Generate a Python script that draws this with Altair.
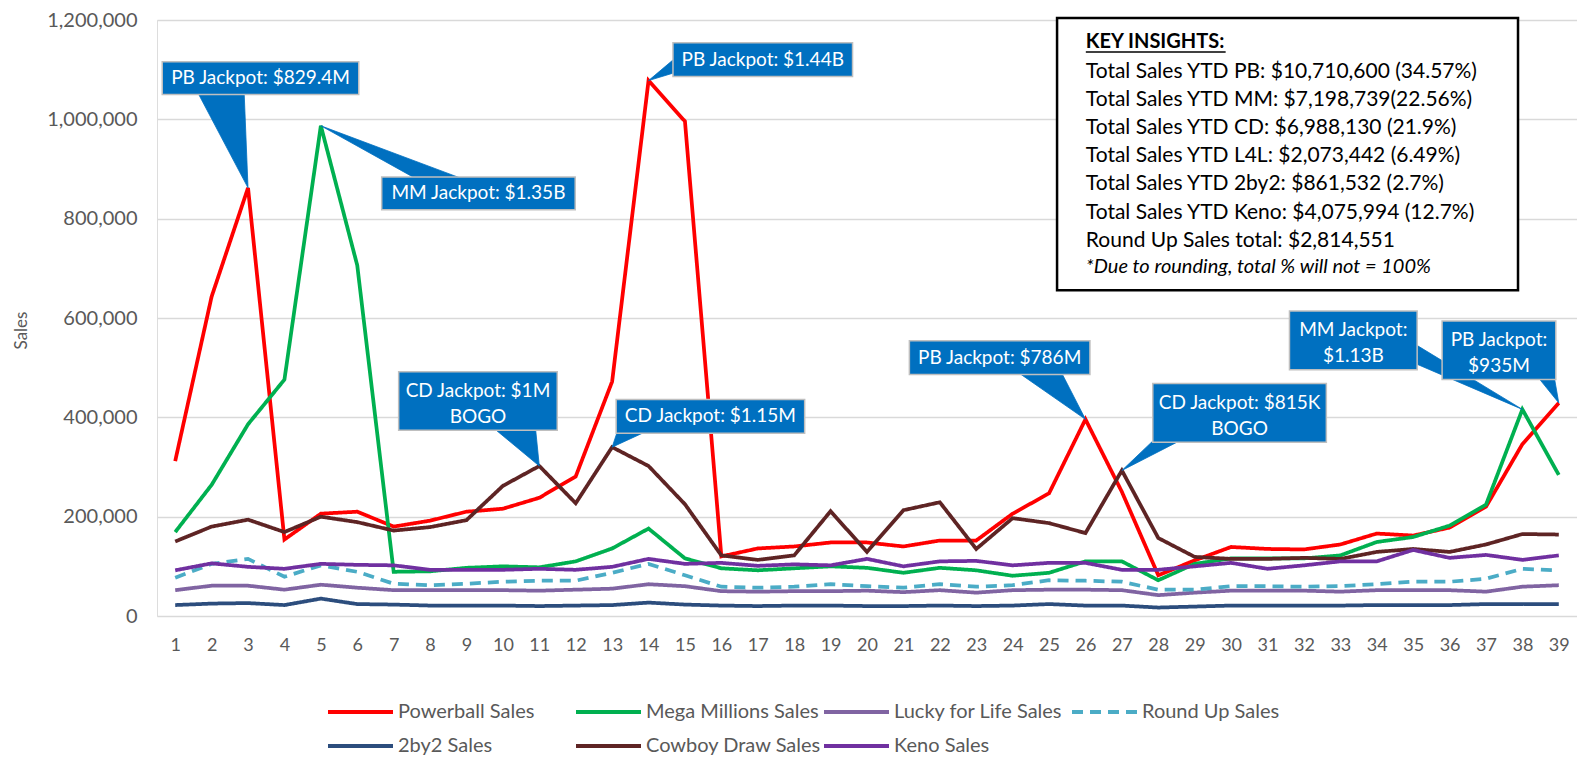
import altair as alt
import pandas as pd

# ---------------- data ----------------
weeks = list(range(1, 40))

powerball = [312000, 643000, 862000, 154000, 206000, 210000, 180000, 192000, 210000, 216000,
             238000, 281000, 472000, 1078000, 996000, 120000, 136000, 140000, 148000, 148000,
             140000, 152000, 152000, 206000, 247000, 396000, 250000, 82000, 112000, 139000,
             135000, 134000, 144000, 166000, 162000, 178000, 220000, 346000, 429000]
mega_millions = [169000, 264000, 386000, 476000, 987000, 706000, 89000, 90000, 97000, 100000,
                 98000, 110000, 136000, 176000, 116000, 96000, 92000, 96000, 100000, 97000,
                 87000, 97000, 92000, 81000, 87000, 110000, 110000, 72000, 105000, 116000,
                 116000, 116000, 122000, 149000, 159000, 182000, 224000, 416000, 284000]
lucky_for_life = [52000, 61000, 61000, 53000, 63000, 57000, 52000, 52000, 52000, 52000,
                  51000, 53000, 55000, 64000, 60000, 50000, 49000, 50000, 50000, 51000,
                  48000, 52000, 47000, 52000, 53000, 53000, 52000, 42000, 47000, 51000,
                  51000, 51000, 49000, 52000, 52000, 52000, 49000, 59000, 62000]
round_up = [77000, 105000, 115000, 79000, 102000, 89000, 65000, 62000, 65000, 69000,
            71000, 71000, 87000, 105000, 82000, 59000, 57000, 59000, 64000, 60000,
            57000, 64000, 59000, 62000, 72000, 71000, 69000, 53000, 53000, 60000,
            60000, 59000, 60000, 64000, 69000, 69000, 75000, 95000, 92000]
two_by_two = [22000, 25000, 26000, 22000, 35000, 24000, 23000, 21000, 21000, 21000,
              20000, 21000, 22000, 27000, 23000, 21000, 20000, 21000, 21000, 20000,
              20000, 21000, 20000, 21000, 24000, 21000, 21000, 17000, 19000, 21000,
              21000, 21000, 21000, 22000, 22000, 22000, 24000, 24000, 24000]
cowboy_draw = [150000, 180000, 194000, 169000, 200000, 189000, 172000, 179000, 193000, 262000,
               302000, 227000, 340000, 302000, 225000, 122000, 113000, 122000, 211000, 129000,
               213000, 229000, 135000, 197000, 187000, 167000, 293000, 157000, 119000, 115000,
               115000, 117000, 115000, 129000, 135000, 129000, 144000, 165000, 164000]
keno = [92000, 106000, 99000, 95000, 105000, 103000, 102000, 93000, 93000, 93000,
        95000, 93000, 99000, 115000, 105000, 107000, 101000, 104000, 102000, 115000,
        100000, 110000, 111000, 102000, 107000, 107000, 93000, 93000, 100000, 107000,
        95000, 102000, 110000, 110000, 133000, 117000, 123000, 113000, 122000]

series_names = ["Powerball Sales", "Mega Millions Sales", "Lucky for Life Sales", "Round Up Sales",
                "2by2 Sales", "Cowboy Draw Sales", "Keno Sales"]
series_values = [powerball, mega_millions, lucky_for_life, round_up, two_by_two, cowboy_draw, keno]
series_colors = ["#FF0000", "#00B050", "#8064A2", "#4BACC6", "#2C4D7D", "#5E2424", "#7030A0"]
series_dashes = [[1, 0], [1, 0], [1, 0], [11, 7], [1, 0], [1, 0], [1, 0]]

y_ticks = [0, 200000, 400000, 600000, 800000, 1000000, 1200000]

# callouts
callout_texts = ["PB Jackpot: $829.4M", "MM Jackpot: $1.35B", "PB Jackpot: $1.44B",
                 "CD Jackpot: $1M\nBOGO", "CD Jackpot: $1.15M", "PB Jackpot: $786M",
                 "CD Jackpot: $815K\nBOGO", "MM Jackpot:\n$1.13B", "PB Jackpot:\n$935M"]
callout_series = ["Powerball Sales", "Mega Millions Sales", "Powerball Sales",
                  "Cowboy Draw Sales", "Cowboy Draw Sales", "Powerball Sales",
                  "Cowboy Draw Sales", "Mega Millions Sales", "Powerball Sales"]
callout_week = [3, 5, 14, 11, 13, 26, 27, 38, 39]
box_x0 = [0.644, 6.671, 14.671, 7.137, 13.11, 21.164, 27.849, 31.603, 35.795]
box_x1 = [6.041, 11.986, 19.603, 11.493, 18.288, 26.123, 32.616, 35.11, 38.918]
box_y0 = [1050000, 818000, 1086000, 374000, 368000, 486000, 350000, 496000, 476000]
box_y1 = [1116000, 884000, 1154000, 492000, 436000, 554000, 468000, 614000, 594000]
# wedge base corners (hidden inside each box)
wedge_ax = [1.575, 7.822, 14.808, 9.685, 13.164, 24.041, 27.959, 34.945, 38.370]
wedge_ay = [1060000, 872000, 1128000, 382000, 376000, 496000, 360000, 552000, 486000]
wedge_bx = [2.890, 9.192, 14.808, 10.890, 14.068, 25.301, 28.781, 34.945, 38.863]
wedge_by = [1060000, 872000, 1096000, 382000, 376000, 496000, 360000, 512000, 486000]

# key insights
insight_header = "KEY INSIGHTS:"
insight_lines = ["Total Sales YTD PB: $10,710,600 (34.57%)",
                 "Total Sales YTD MM: $7,198,739(22.56%)",
                 "Total Sales YTD CD: $6,988,130 (21.9%)",
                 "Total Sales YTD L4L: $2,073,442 (6.49%)",
                 "Total Sales YTD 2by2: $861,532 (2.7%)",
                 "Total Sales YTD Keno: $4,075,994 (12.7%)",
                 "Round Up Sales total: $2,814,551"]
insight_note = "*Due to rounding, total % will not = 100%"

# ---------------- tables ----------------
rows = []
for name, vals in zip(series_names, series_values):
    for w, v in zip(weeks, vals):
        rows.append({"series": name, "week": w, "sales": v})
df = pd.DataFrame(rows)

lookup = dict(zip(series_names, series_values))
wedge_rows = []
for i in range(len(callout_texts)):
    tip = lookup[callout_series[i]][callout_week[i] - 1]
    wedge_rows.append({"id": i, "k": 0, "week": wedge_ax[i], "sales": wedge_ay[i]})
    wedge_rows.append({"id": i, "k": 1, "week": callout_week[i], "sales": tip})
    wedge_rows.append({"id": i, "k": 2, "week": wedge_bx[i], "sales": wedge_by[i]})
wedge_df = pd.DataFrame(wedge_rows)

box_df = pd.DataFrame({"label": callout_texts, "week": box_x0, "x1": box_x1,
                       "sales": box_y0, "y1": box_y1})
box_df["cx"] = (box_df["week"] + box_df["x1"]) / 2
box_df["cy"] = (box_df["sales"] + box_df["y1"]) / 2
box_df["multi"] = box_df["label"].str.contains("\n")

ins_box = pd.DataFrame({"week": [25.22], "x1": [37.88], "sales": [656000], "y1": [1204000]})
ins_head = pd.DataFrame({"t": [insight_header], "week": [26.01], "sales": [1155000]})
ins_ul = pd.DataFrame({"week": [26.01], "x2": [29.85], "sales": [1135400]})
ins_body = pd.DataFrame({"t": insight_lines, "week": [26.01] * len(insight_lines),
                         "sales": [1096000 - i * 56800 for i in range(len(insight_lines))]})
ins_note = pd.DataFrame({"t": [insight_note], "week": [26.01], "sales": [703000]})

# ---------------- chart ----------------
FONT = "Lato"
xs = alt.Scale(domain=[0.5, 39.5], nice=False, zero=False)
ys = alt.Scale(domain=[0, 1200000], nice=False)
x_axis = alt.Axis(values=weeks, grid=False, ticks=False, domain=False, title=None,
                  labelFontSize=18, labelColor="#595959", labelPadding=20,
                  labelFont=FONT, labelFlush=False)
y_axis = alt.Axis(values=y_ticks, format=",", labelExpr="format(datum.value, ',')",
                  grid=True, gridColor="#D9D9D9",
                  gridWidth=1.5, domain=False, ticks=False, labelFontSize=20,
                  labelColor="#595959", labelPadding=20, labelFont=FONT,
                  title="Sales", titleFontSize=17, titleFontWeight="normal",
                  titleColor="#595959", titleFont=FONT, titleX=-127, titleY=310)
X = alt.X("week:Q", scale=xs, axis=x_axis)
Y = alt.Y("sales:Q", scale=ys, axis=y_axis)

legend = alt.Legend(orient="none", legendX=169, legendY=680, direction="horizontal",
                    columns=4, symbolType="stroke", symbolSize=4225, symbolStrokeWidth=4,
                    labelFont=FONT, labelFontSize=20, clipHeight=24, labelLimit=400,
                    labelColor="#595959", title=None, gridAlign="all", columnPadding=0,
                    rowPadding=10, labelOffset=3, padding=0)

lines = alt.Chart(df).mark_line(strokeWidth=3.75).encode(
    x=X, y=Y,
    color=alt.Color("series:N", scale=alt.Scale(domain=series_names, range=series_colors),
                    sort=series_names, legend=legend),
    strokeDash=alt.StrokeDash("series:N", scale=alt.Scale(domain=series_names, range=series_dashes),
                              sort=series_names, legend=legend),
    order=alt.Order("week:Q"),
)

wedges = alt.Chart(wedge_df).mark_line(fill="#0070C0", stroke="#0070C0", strokeWidth=0.8).encode(
    x=X, y=Y, detail="id:N", order=alt.Order("k:Q"),
)

boxes = alt.Chart(box_df).mark_rect(fill="#0070C0", stroke="#BFBFBF", strokeWidth=1.5).encode(
    x=X, x2="x1", y=Y, y2="y1",
)

box_text1 = alt.Chart(box_df).transform_filter("!datum.multi").mark_text(
    color="white", fontSize=19, font=FONT, align="center", baseline="middle").encode(
    x=alt.X("cx:Q", scale=xs, axis=x_axis), y=alt.Y("cy:Q", scale=ys, axis=y_axis),
    text="label:N",
)
box_text2 = alt.Chart(box_df).transform_filter("datum.multi").mark_text(
    color="white", fontSize=19, font=FONT, lineBreak="\n", lineHeight=26, dy=-10,
    align="center", baseline="middle").encode(
    x=alt.X("cx:Q", scale=xs, axis=x_axis), y=alt.Y("cy:Q", scale=ys, axis=y_axis),
    text="label:N",
)

ibox = alt.Chart(ins_box).mark_rect(fill="white", stroke="black", strokeWidth=2.5).encode(
    x=X, x2="x1", y=Y, y2="y1",
)

ihead = alt.Chart(ins_head).mark_text(fontSize=20, font=FONT, fontWeight="bold", align="left",
                                      baseline="middle", color="black").encode(
    x=X, y=Y, text="t:N")

iul = alt.Chart(ins_ul).mark_rule(color="black", strokeWidth=1.5).encode(
    x=X, x2="x2", y=Y)

ibody = alt.Chart(ins_body).mark_text(fontSize=21, font=FONT, align="left",
                                      baseline="middle", color="black").encode(
    x=X, y=Y, text="t:N")

inote = alt.Chart(ins_note).mark_text(fontSize=20, font=FONT, fontStyle="italic", align="left",
                                      baseline="middle", color="black").encode(
    x=X, y=Y, text="t:N")

chart = alt.layer(lines, wedges, boxes, box_text1, box_text2, ibox, ihead, iul, ibody,
                  inote).properties(
    width=1420, height=596,
    autosize=alt.AutoSizeParams(type="none"),
    padding={"left": 149, "top": 12, "right": 0, "bottom": 140},
).configure_view(stroke=None).configure(font=FONT)

chart.save("out.html", embed_options={"renderer": "svg", "actions": False})
